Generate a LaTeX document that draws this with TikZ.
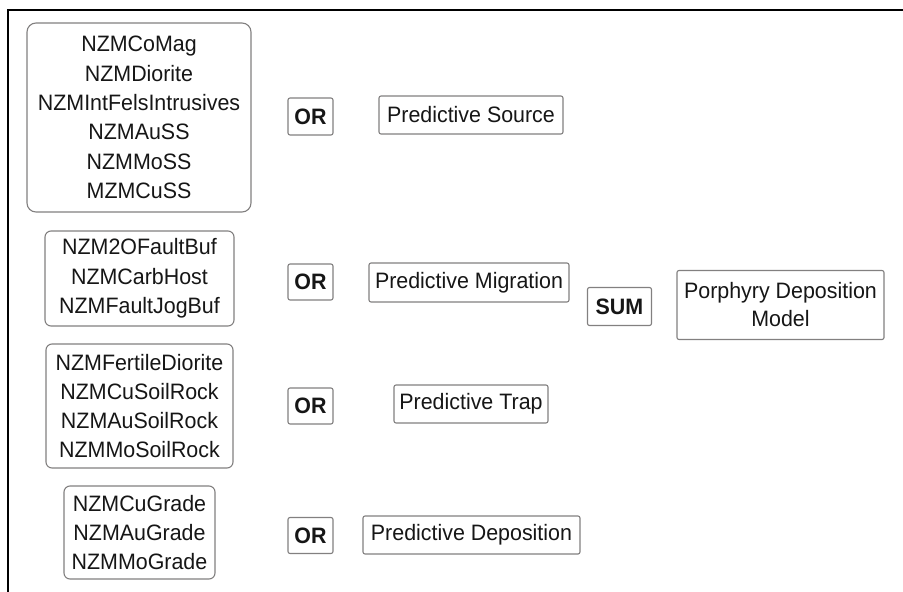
\documentclass[tikz,border=0pt]{standalone}
\usepackage{fontspec}
\setmainfont{Liberation Sans}[FakeStretch=0.96]
\definecolor{boxgray}{RGB}{130,128,128}
\definecolor{txt}{RGB}{22,22,22}
\tikzset{
  grp/.style={draw=boxgray, line width=1.1pt, rounded corners=6pt, align=center, inner sep=0pt,
    font=\fontsize{22.3}{29.3}\selectfont, text=txt},
  opbox/.style={draw=boxgray, line width=1.1pt, rounded corners=2pt, inner sep=0pt,
    font=\fontsize{22.3}{26}\selectfont\bfseries, text=txt},
  resbox/.style={draw=boxgray, line width=1.1pt, rounded corners=2pt, inner sep=0pt, align=center,
    font=\fontsize{22.3}{28}\selectfont, text=txt},
}
\begin{document}
\begin{tikzpicture}[x=1pt,y=-1pt]
\useasboundingbox[fill=white] (0,0) rectangle (903,592);
% frame
\draw[line width=2pt, black] (8,593) -- (8,10) -- (904,10);

% input groups
\node[grp, minimum width=224pt, minimum height=189pt, rounded corners=9pt] (g1) at (139,117.5)
  {NZMCoMag\\NZMDiorite\\NZMIntFelsIntrusives\\NZMAuSS\\NZMMoSS\\MZMCuSS};
\node[grp, minimum width=189pt, minimum height=95pt] (g2) at (139.5,278.5)
  {NZM2OFaultBuf\\NZMCarbHost\\NZMFaultJogBuf};
\node[grp, minimum width=187pt, minimum height=124pt] (g3) at (139.5,406)
  {NZMFertileDiorite\\NZMCuSoilRock\\NZMAuSoilRock\\NZMMoSoilRock};
\node[grp, minimum width=151pt, minimum height=93pt] (g4) at (139.5,532.5)
  {NZMCuGrade\\NZMAuGrade\\NZMMoGrade};

% operators
\node[opbox, minimum width=45pt, minimum height=37pt] (or1) at (310.5,116.5) {OR};
\node[opbox, minimum width=45pt, minimum height=36pt] (or2) at (310.5,282) {OR};
\node[opbox, minimum width=45pt, minimum height=36pt] (or3) at (310.5,406) {OR};
\node[opbox, minimum width=45pt, minimum height=36pt] (or4) at (310.5,535.5) {OR};
\node[opbox, minimum width=64pt, minimum height=38pt] (sum) at (619.5,306.5) {SUM};

% results
\node[resbox, minimum width=184pt, minimum height=38pt] (ps) at (471,115) {Predictive Source};
\node[resbox, minimum width=200pt, minimum height=39pt] (pm) at (469,282.5) {Predictive Migration};
\node[resbox, minimum width=154pt, minimum height=38pt] (pt) at (471,404) {Predictive Trap};
\node[resbox, minimum width=217pt, minimum height=38pt] (pd) at (471.5,535) {Predictive Deposition};
\node[resbox, minimum width=207pt, minimum height=69pt] (pdm) at (780.5,305) {Porphyry Deposition\\Model};
\end{tikzpicture}
\end{document}
